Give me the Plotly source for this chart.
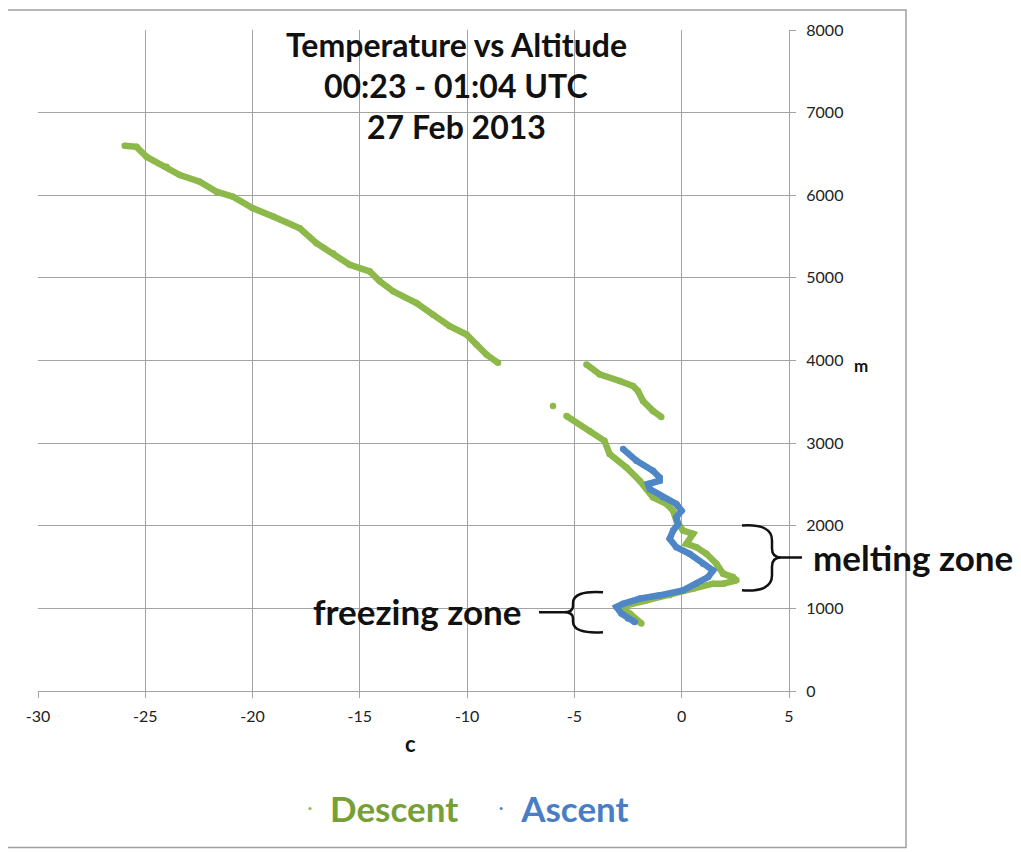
import plotly.graph_objects as go

# ---------------- data ----------------
descent_temp = [-25.96, -25.41, -24.94, -24.01, -23.39, -22.46, -21.68, -20.91, -19.98, -19.04,
                -17.80, -17.02, -16.25, -15.47, -14.54, -14.07, -13.45, -12.36, -11.59, -10.81,
                -10.03, -9.57, -9.10, -8.56, None,
                -4.44, -3.82, -2.89, -2.27, -2.04, -1.80, -1.34, -0.95, None,
                -6.00, None,
                -5.37, -4.29, -3.60, -3.36, -2.58, -1.96, -1.34, -0.71, -0.40, -0.25,
                0.06, 0.53, 0.22, 0.68, 1.15, 1.62, 1.93, 2.39, 2.55, 1.93,
                1.46, 0.53, -0.56, -1.64, -2.58, -2.73, -2.42, -2.11, -1.88]
descent_alt = [6598, 6586, 6466, 6345, 6245, 6164, 6043, 5983, 5842, 5742,
               5601, 5420, 5299, 5159, 5078, 4958, 4837, 4696, 4555, 4415,
               4315, 4193, 4072, 3972, None,
               3953, 3832, 3752, 3691, 3631, 3510, 3390, 3317, None,
               3450, None,
               3329, 3148, 3028, 2867, 2706, 2545, 2344, 2264, 2183, 2063,
               1942, 1902, 1782, 1741, 1661, 1540, 1420, 1379, 1339, 1299,
               1299, 1239, 1158, 1098, 1037, 998, 937, 856, 816]

ascent_temp = [-2.73, -2.11, -1.34, -1.03, -1.03, -1.57, -1.49, -0.87, -0.25, -0.01,
               -0.25, -0.17, -0.40, -0.56, -0.25, 0.37, 0.99, 1.46, 1.23, 0.68,
               0.06, -1.03, -1.96, -2.73, -3.04, -2.81, -2.50, -2.19]
ascent_alt = [2928, 2787, 2666, 2585, 2545, 2505, 2445, 2344, 2264, 2183,
              2103, 2022, 1942, 1842, 1741, 1661, 1540, 1460, 1379, 1299,
              1218, 1158, 1118, 1057, 1017, 937, 876, 836]

series_names = ["Descent", "Ascent"]
title_lines = ["Temperature vs Altitude", "00:23 - 01:04 UTC", "27 Feb 2013"]
x_ticks = [-30, -25, -20, -15, -10, -5, 0, 5]
y_ticks = [0, 1000, 2000, 3000, 4000, 5000, 6000, 7000, 8000]

# ---------------- styling ----------------
W, H = 1021, 852          # page size
OFF = 8                   # default body margin of the html page
L, R, T, B = 38, 789, 28, 691   # plot area in page pixels
GREEN = "#8db84a"
BLUE = "#4f86c6"
GREEN_TXT = "#76a036"
BLUE_TXT = "#4a7ec4"
GRID = "#a3a3a3"
FONT = "Lato"


def px(x):
    return (x - L) / (R - L)


def py(y):
    return (B - y) / (B - T)


FW, FH = W - OFF, H - OFF

fig = go.Figure()
fig.add_trace(go.Scatter(x=descent_temp, y=descent_alt, mode="lines+markers",
                         line=dict(color=GREEN, width=6.5), marker=dict(color=GREEN, size=6.5),
                         connectgaps=False, showlegend=False, hoverinfo="x+y"))
fig.add_trace(go.Scatter(x=ascent_temp, y=ascent_alt, mode="lines+markers",
                         line=dict(color=BLUE, width=6.5), marker=dict(color=BLUE, size=6.5),
                         showlegend=False, hoverinfo="x+y"))
# legend entries (small dot markers like the reference)
fig.add_trace(go.Scatter(x=[None], y=[None], mode="markers", marker=dict(color=GREEN, size=3),
                         name="<b><span style='color:%s'>%s</span></b>&nbsp;&nbsp;" % (GREEN_TXT, series_names[0])))
fig.add_trace(go.Scatter(x=[None], y=[None], mode="markers", marker=dict(color=BLUE, size=3),
                         name="<b><span style='color:%s'>%s</span></b>" % (BLUE_TXT, series_names[1])))

fig.update_layout(
    width=FW, height=FH,
    margin=dict(l=L - OFF, r=FW - (R - OFF), t=T - OFF, b=FH - (B - OFF)),
    paper_bgcolor="white", plot_bgcolor="white",
    font=dict(family=FONT, color="#222"),
    legend=dict(orientation="h", x=px(290), y=py(809), xanchor="left", yanchor="middle",
                font=dict(family=FONT, size=35), itemwidth=30, tracegroupgap=0,
                bgcolor="rgba(0,0,0,0)"),
    xaxis=dict(range=[-30, 5], tickvals=x_ticks, ticktext=[str(v) for v in x_ticks],
               showgrid=True, gridcolor=GRID, gridwidth=1, zeroline=False,
               showline=True, linecolor=GRID, linewidth=1.2,
               ticks="outside", ticklen=6, tickcolor=GRID, ticklabelstandoff=5,
               tickfont=dict(family=FONT, size=16, color="#222"), fixedrange=True),
    yaxis=dict(range=[0, 8000], tickvals=y_ticks, ticktext=[str(v) for v in y_ticks],
               side="right", showgrid=True, gridcolor=GRID, gridwidth=1, zeroline=False,
               showline=True, linecolor=GRID, linewidth=1.2,
               ticks="outside", ticklen=6, tickcolor=GRID, ticklabelstandoff=7,
               tickfont=dict(family=FONT, size=16, color="#222"), fixedrange=True),
)

# outer chart border
fig.add_shape(type="rect", xref="paper", yref="paper",
              x0=px(6), x1=px(906), y0=py(848), y1=py(8),
              line=dict(color="#a0a0a0", width=1.5), layer="below")

annotations = []
for txt, yy in zip(title_lines, [43, 84, 125]):
    annotations.append(dict(text="<b>%s</b>" % txt, x=px(456), y=py(yy), xref="paper", yref="paper",
                            showarrow=False, font=dict(family=FONT, size=32, color="#111"),
                            xanchor="center", yanchor="middle"))
annotations.append(dict(text="<b>c</b>", x=px(410), y=py(744), xref="paper", yref="paper",
                        showarrow=False, font=dict(family=FONT, size=22, color="#111"),
                        yanchor="middle"))
annotations.append(dict(text="<b>m</b>", x=px(870), y=py(365), xref="paper", yref="paper",
                        showarrow=False, font=dict(family=FONT, size=17, color="#111"),
                        yanchor="middle"))
annotations.append(dict(text="<b>melting zone</b>", x=px(811), y=py(557), xref="paper", yref="paper",
                        showarrow=False, xanchor="left", yanchor="middle",
                        font=dict(family=FONT, size=35, color="#111")))
annotations.append(dict(text="<b>freezing zone</b>", x=px(523), y=py(611), xref="paper", yref="paper",
                        showarrow=False, xanchor="right", yanchor="middle",
                        font=dict(family=FONT, size=35, color="#111")))
fig.update_layout(annotations=annotations)


def path(points_cmds):
    out = []
    for cmd, pts in points_cmds:
        coords = " ".join("%.5f,%.5f" % (px(x), py(y)) for x, y in pts)
        out.append("%s %s" % (cmd, coords))
    return " ".join(out)


# melting-zone brace "}" + leader
melt = path([("M", [(742, 525)]), ("Q", [(772, 523), (772, 540)]), ("L", [(772, 548)]),
             ("Q", [(772, 557), (781, 557)]), ("Q", [(772, 557), (772, 566)]), ("L", [(772, 575)]),
             ("Q", [(772, 592), (742, 590)]),
             ("M", [(781, 557)]), ("L", [(802, 557)])])
# freezing-zone brace "{" + leader
freeze = path([("M", [(603, 592)]), ("Q", [(573, 590), (573, 603)]), ("L", [(573, 606)]),
               ("Q", [(573, 612), (564, 612)]), ("Q", [(573, 612), (573, 618)]), ("L", [(573, 621)]),
               ("Q", [(573, 634), (603, 632)]),
               ("M", [(564, 612)]), ("L", [(539, 612)])])
for p in (melt, freeze):
    fig.add_shape(type="path", xref="paper", yref="paper", path=p,
                  line=dict(color="#111", width=2.5))

fig.write_html("out.html")
